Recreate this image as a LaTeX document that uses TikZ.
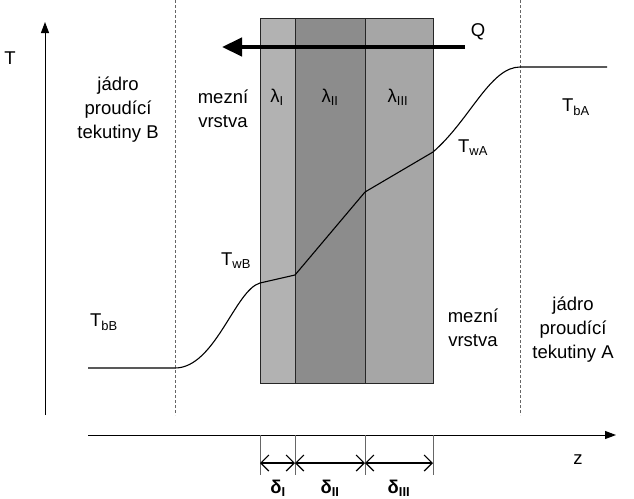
\documentclass[tikz,border=0pt]{standalone}
\usepackage{fontspec}
\setmainfont{Liberation Sans}
\usetikzlibrary{arrows.meta}
\begin{document}
\begin{tikzpicture}[x=1pt,y=-1pt,
  lbl/.style={font=\fontsize{18.5}{24}\selectfont,align=center,inner sep=0},
  layer/.style={draw=black!85,line width=1pt},
  dashline/.style={densely dashed,black!60,line width=0.6pt},
  tick/.style={black!60,line width=0.8pt},
  dim/.style={{Straight Barb[length=8pt,width=16pt]}-{Straight Barb[length=8pt,width=16pt]},line width=1.2pt}]
\useasboundingbox (0,0) rectangle (634,498);
\fill[white] (0,0) rectangle (634,498);
\draw[layer,fill=black!30] (260,18) rectangle (295,383);
\draw[layer,fill=black!45] (295,18) rectangle (365,383);
\draw[layer,fill=black!35] (365,18) rectangle (433,383);
\draw[dashline] (175,0) -- (175,415);
\draw[dashline] (520,0) -- (520,415);
\draw[-{Triangle[length=11pt,width=8pt]},line width=1pt] (45,415) -- (45,22);
\draw[-{Triangle[length=11pt,width=8pt]},line width=1pt] (88,435) -- (616,435);
\draw[-{Triangle[length=20pt,width=18pt]},line width=4.5pt] (465,47) -- (222,47);
\foreach \x/\n in {260/a,295/b,365/c,433/d}{\coordinate (\n) at (\x,463); \draw[tick] (\x,435) -- (\x,475);}
\draw[dim] (a) -- (b);
\draw[dim] (b) -- (c);
\draw[dim] (c) -- (d);
\draw[line width=1.1pt] (88,368) -- (175,368) .. controls (215,368) and (235,290) .. (260,283) -- (295,275) -- (365,192) -- (433,152) .. controls (470,120) and (490,67) .. (520,67) -- (607,67);
\node[lbl] at (10,58) {T};
\node[lbl] at (478,32) {Q};
\node[lbl] at (578,460) {z};
\node[lbl] at (118,110) {jádro\\proudící\\tekutiny B};
\node[lbl] at (223,109) {mezní\\vrstva};
\node[lbl] at (473,328) {mezní\\vrstva};
\node[lbl] at (573,330) {jádro\\proudící\\tekutiny A};
\node[lbl] at (277,97) {λ\textsubscript{I}};
\node[lbl] at (330,97) {λ\textsubscript{II}};
\node[lbl] at (398,97) {λ\textsubscript{III}};
\node[lbl] at (576,107) {T\textsubscript{bA}};
\node[lbl] at (473,148) {T\textsubscript{wA}};
\node[lbl] at (236,261) {T\textsubscript{wB}};
\node[lbl] at (104,322) {T\textsubscript{bB}};
\node[lbl,font=\fontsize{18.5}{24}\selectfont\bfseries] at (278,488) {δ\textsubscript{I}};
\node[lbl,font=\fontsize{18.5}{24}\selectfont\bfseries] at (330,488) {δ\textsubscript{II}};
\node[lbl,font=\fontsize{18.5}{24}\selectfont\bfseries] at (399,488) {δ\textsubscript{III}};
\end{tikzpicture}
\end{document}
